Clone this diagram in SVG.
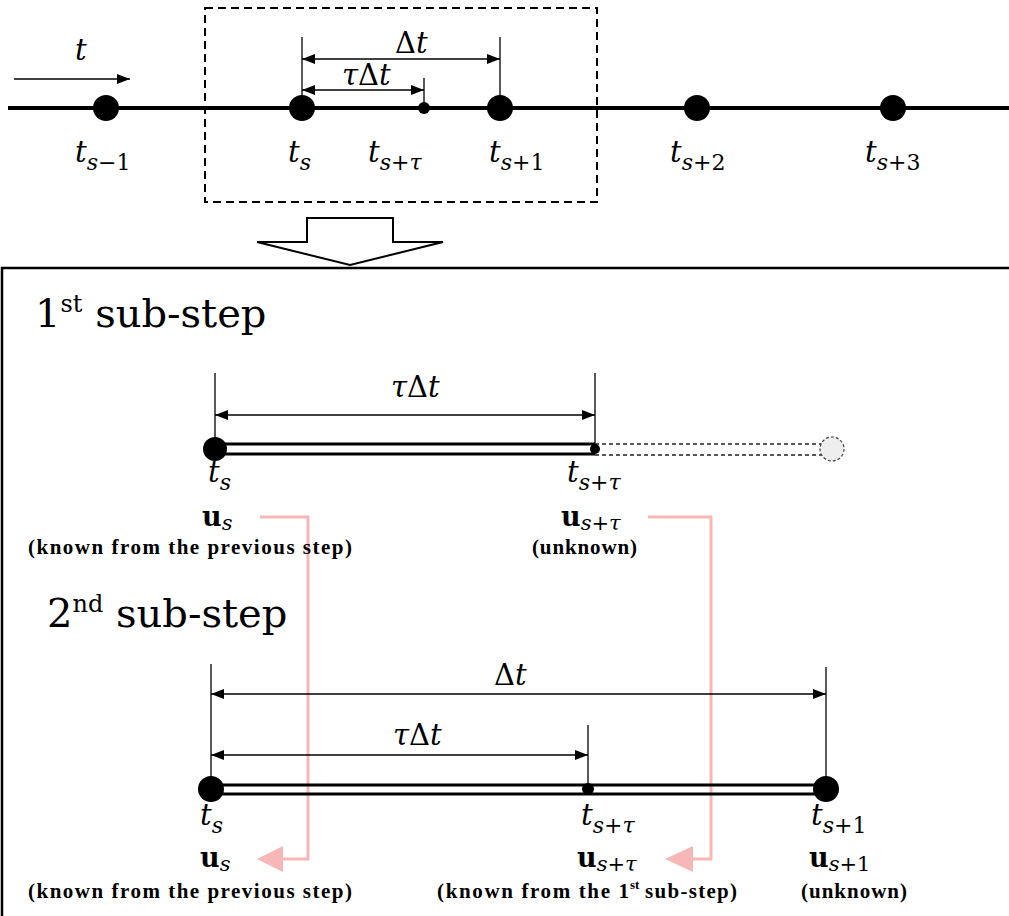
<svg xmlns="http://www.w3.org/2000/svg" width="1009" height="916" viewBox="0 0 1009 916">
<style>
.m{font-family:"DejaVu Serif",serif;font-style:italic;font-size:29px;fill:#000}
.s{font-size:22px}
.up{font-style:normal}
.u{font-family:"DejaVu Serif",serif;font-weight:bold;font-size:27px;fill:#000}
.us{font-weight:normal;font-style:italic;font-size:21px}
.note{font-family:"Liberation Serif",serif;font-weight:bold;font-size:21px;fill:#000}
.title{font-family:"DejaVu Serif",serif;font-size:40px;fill:#000}
.sup{font-size:24px}
.thin{stroke:#000;stroke-width:1.3;fill:none}
.dim{stroke:#000;stroke-width:1.3;fill:none;marker-start:url(#ah);marker-end:url(#ah)}
.bar{stroke:#000;stroke-width:3}
.pink{stroke:#F7B7B7;stroke-width:3;fill:none}
</style>
<defs>
<marker id="ah" markerUnits="userSpaceOnUse" markerWidth="14" markerHeight="10" refX="13" refY="5" orient="auto-start-reverse">
<path d="M0,0 L13,5 L0,10 z" fill="#000"/>
</marker>
</defs>

<g id="timeline">
<line x1="8" y1="108" x2="1009" y2="108" stroke="#000" stroke-width="4"/>
<line class="thin" x1="14" y1="79" x2="130" y2="79" marker-end="url(#ah)"/>
<text class="m" x="75" y="60">t</text>
<rect x="205" y="8" width="392" height="194" fill="none" stroke="#000" stroke-width="2" stroke-dasharray="8 5"/>
<line class="thin" x1="302" y1="37" x2="302" y2="108"/>
<line class="thin" x1="500" y1="37" x2="500" y2="108"/>
<line class="thin" x1="424" y1="78" x2="424" y2="108"/>
<line class="dim" x1="302" y1="59" x2="500" y2="59"/>
<line class="thin" x1="302" y1="90" x2="424" y2="90" marker-start="url(#ah)" marker-end="url(#ah)"/>
<text class="m" x="395" y="53"><tspan class="up">Δ</tspan>t</text>
<text class="m" x="342" y="85">τ<tspan class="up">Δ</tspan>t</text>
</g>

<g id="node-ts-1"><circle cx="106" cy="108" r="13"/><text class="m" x="75" y="162">t<tspan class="s" dy="8">s<tspan class="up">−1</tspan></tspan></text></g>
<g id="node-ts"><circle cx="302" cy="108" r="13"/><text class="m" x="288" y="162">t<tspan class="s" dy="8">s</tspan></text></g>
<g id="node-tstau"><circle cx="424" cy="108" r="6"/><text class="m" x="368" y="162">t<tspan class="s" dy="8">s<tspan class="up">+</tspan>τ</tspan></text></g>
<g id="node-ts1"><circle cx="500" cy="108" r="13"/><text class="m" x="489" y="162">t<tspan class="s" dy="8">s<tspan class="up">+1</tspan></tspan></text></g>
<g id="node-ts2"><circle cx="697" cy="108" r="13"/><text class="m" x="670" y="162">t<tspan class="s" dy="8">s<tspan class="up">+2</tspan></tspan></text></g>
<g id="node-ts3"><circle cx="893" cy="108" r="13"/><text class="m" x="865" y="162">t<tspan class="s" dy="8">s<tspan class="up">+3</tspan></tspan></text></g>

<g id="zoom-arrow">
<polygon points="307,218 393,218 393,242 443,242 350,265 257,242 307,242" fill="#fff" stroke="#000" stroke-width="2"/>
</g>

<g id="panel">
<rect x="2" y="268" width="1030" height="700" fill="none" stroke="#000" stroke-width="2.5"/>
</g>

<g id="connectors">
<path class="pink" d="M260,517 H308 V859 H280"/>
<polygon points="283,846 283,872 257,859" fill="#F7B7B7"/>
<path class="pink" d="M648,517 H711 V859 H690"/>
<polygon points="693,846 693,872 665,859" fill="#F7B7B7"/>
</g>

<g id="substep1">
<text class="title" x="35" y="327">1<tspan class="sup" dy="-15">st</tspan><tspan dy="15"> sub-step</tspan></text>
<line class="thin" x1="215" y1="373" x2="215" y2="449"/>
<line class="thin" x1="595" y1="373" x2="595" y2="449"/>
<line class="dim" x1="215" y1="415" x2="595" y2="415"/>
<text class="m" x="391" y="397">τ<tspan class="up">Δ</tspan>t</text>
<line class="bar" x1="215" y1="444" x2="595" y2="444"/>
<line class="bar" x1="215" y1="454" x2="595" y2="454"/>
<line x1="595" y1="444" x2="822" y2="444" stroke="#222" stroke-width="1.3" stroke-dasharray="4 3"/>
<line x1="595" y1="455" x2="822" y2="455" stroke="#222" stroke-width="1.3" stroke-dasharray="4 3"/>
<circle cx="832" cy="449" r="12" fill="#eeeeee" stroke="#444" stroke-width="1.2" stroke-dasharray="3 2"/>
</g>

<g id="s1-node-ts"><circle cx="215" cy="449" r="12"/>
<text class="m" x="208" y="482">t<tspan class="s" dy="8">s</tspan></text>
<text class="u" x="202" y="526">u<tspan class="us" dy="4">s</tspan></text>
<text class="note" x="28" y="554" textLength="324" lengthAdjust="spacing">(known from the previous step)</text>
</g>
<g id="s1-node-tstau"><circle cx="595" cy="449" r="5"/>
<text class="m" x="567" y="482">t<tspan class="s" dy="8">s<tspan class="up">+</tspan>τ</tspan></text>
<text class="u" x="561" y="526">u<tspan class="us" dy="4">s<tspan style="font-style:normal">+</tspan>τ</tspan></text>
<text class="note" x="532" y="554" textLength="105" lengthAdjust="spacing">(unknown)</text>
</g>

<g id="substep2">
<text class="title" x="47" y="627">2<tspan class="sup" dy="-15">nd</tspan><tspan dy="15"> sub-step</tspan></text>
<line class="thin" x1="211" y1="664" x2="211" y2="789"/>
<line class="thin" x1="588" y1="725" x2="588" y2="789"/>
<line class="thin" x1="826" y1="667" x2="826" y2="789"/>
<line class="dim" x1="211" y1="694" x2="826" y2="694"/>
<text class="m" x="494" y="685"><tspan class="up">Δ</tspan>t</text>
<line class="dim" x1="211" y1="755" x2="588" y2="755"/>
<text class="m" x="393" y="745">τ<tspan class="up">Δ</tspan>t</text>
<line class="bar" x1="211" y1="785" x2="826" y2="785"/>
<line class="bar" x1="211" y1="794" x2="826" y2="794"/>
</g>

<g id="s2-node-ts"><circle cx="211" cy="789" r="13"/>
<text class="m" x="200" y="825">t<tspan class="s" dy="8">s</tspan></text>
<text class="u" x="200" y="867">u<tspan class="us" dy="4">s</tspan></text>
<text class="note" x="28" y="898" textLength="324" lengthAdjust="spacing">(known from the previous step)</text>
</g>
<g id="s2-node-tstau"><circle cx="588" cy="789" r="6"/>
<text class="m" x="581" y="825">t<tspan class="s" dy="8">s<tspan class="up">+</tspan>τ</tspan></text>
<text class="u" x="577" y="867">u<tspan class="us" dy="4">s<tspan style="font-style:normal">+</tspan>τ</tspan></text>
<text class="note" x="437" y="898" textLength="192" lengthAdjust="spacing">(known from the 1</text>
<text class="note" x="630" y="889" style="font-size:13px">st</text>
<text class="note" x="645" y="898" textLength="92" lengthAdjust="spacing">sub-step)</text>
</g>
<g id="s2-node-ts1"><circle cx="826" cy="789" r="13"/>
<text class="m" x="811" y="825">t<tspan class="s" dy="8">s<tspan class="up">+1</tspan></tspan></text>
<text class="u" x="809" y="867">u<tspan class="us" dy="4">s<tspan style="font-style:normal">+1</tspan></tspan></text>
<text class="note" x="801" y="898" textLength="106" lengthAdjust="spacing">(unknown)</text>
</g>
</svg>
